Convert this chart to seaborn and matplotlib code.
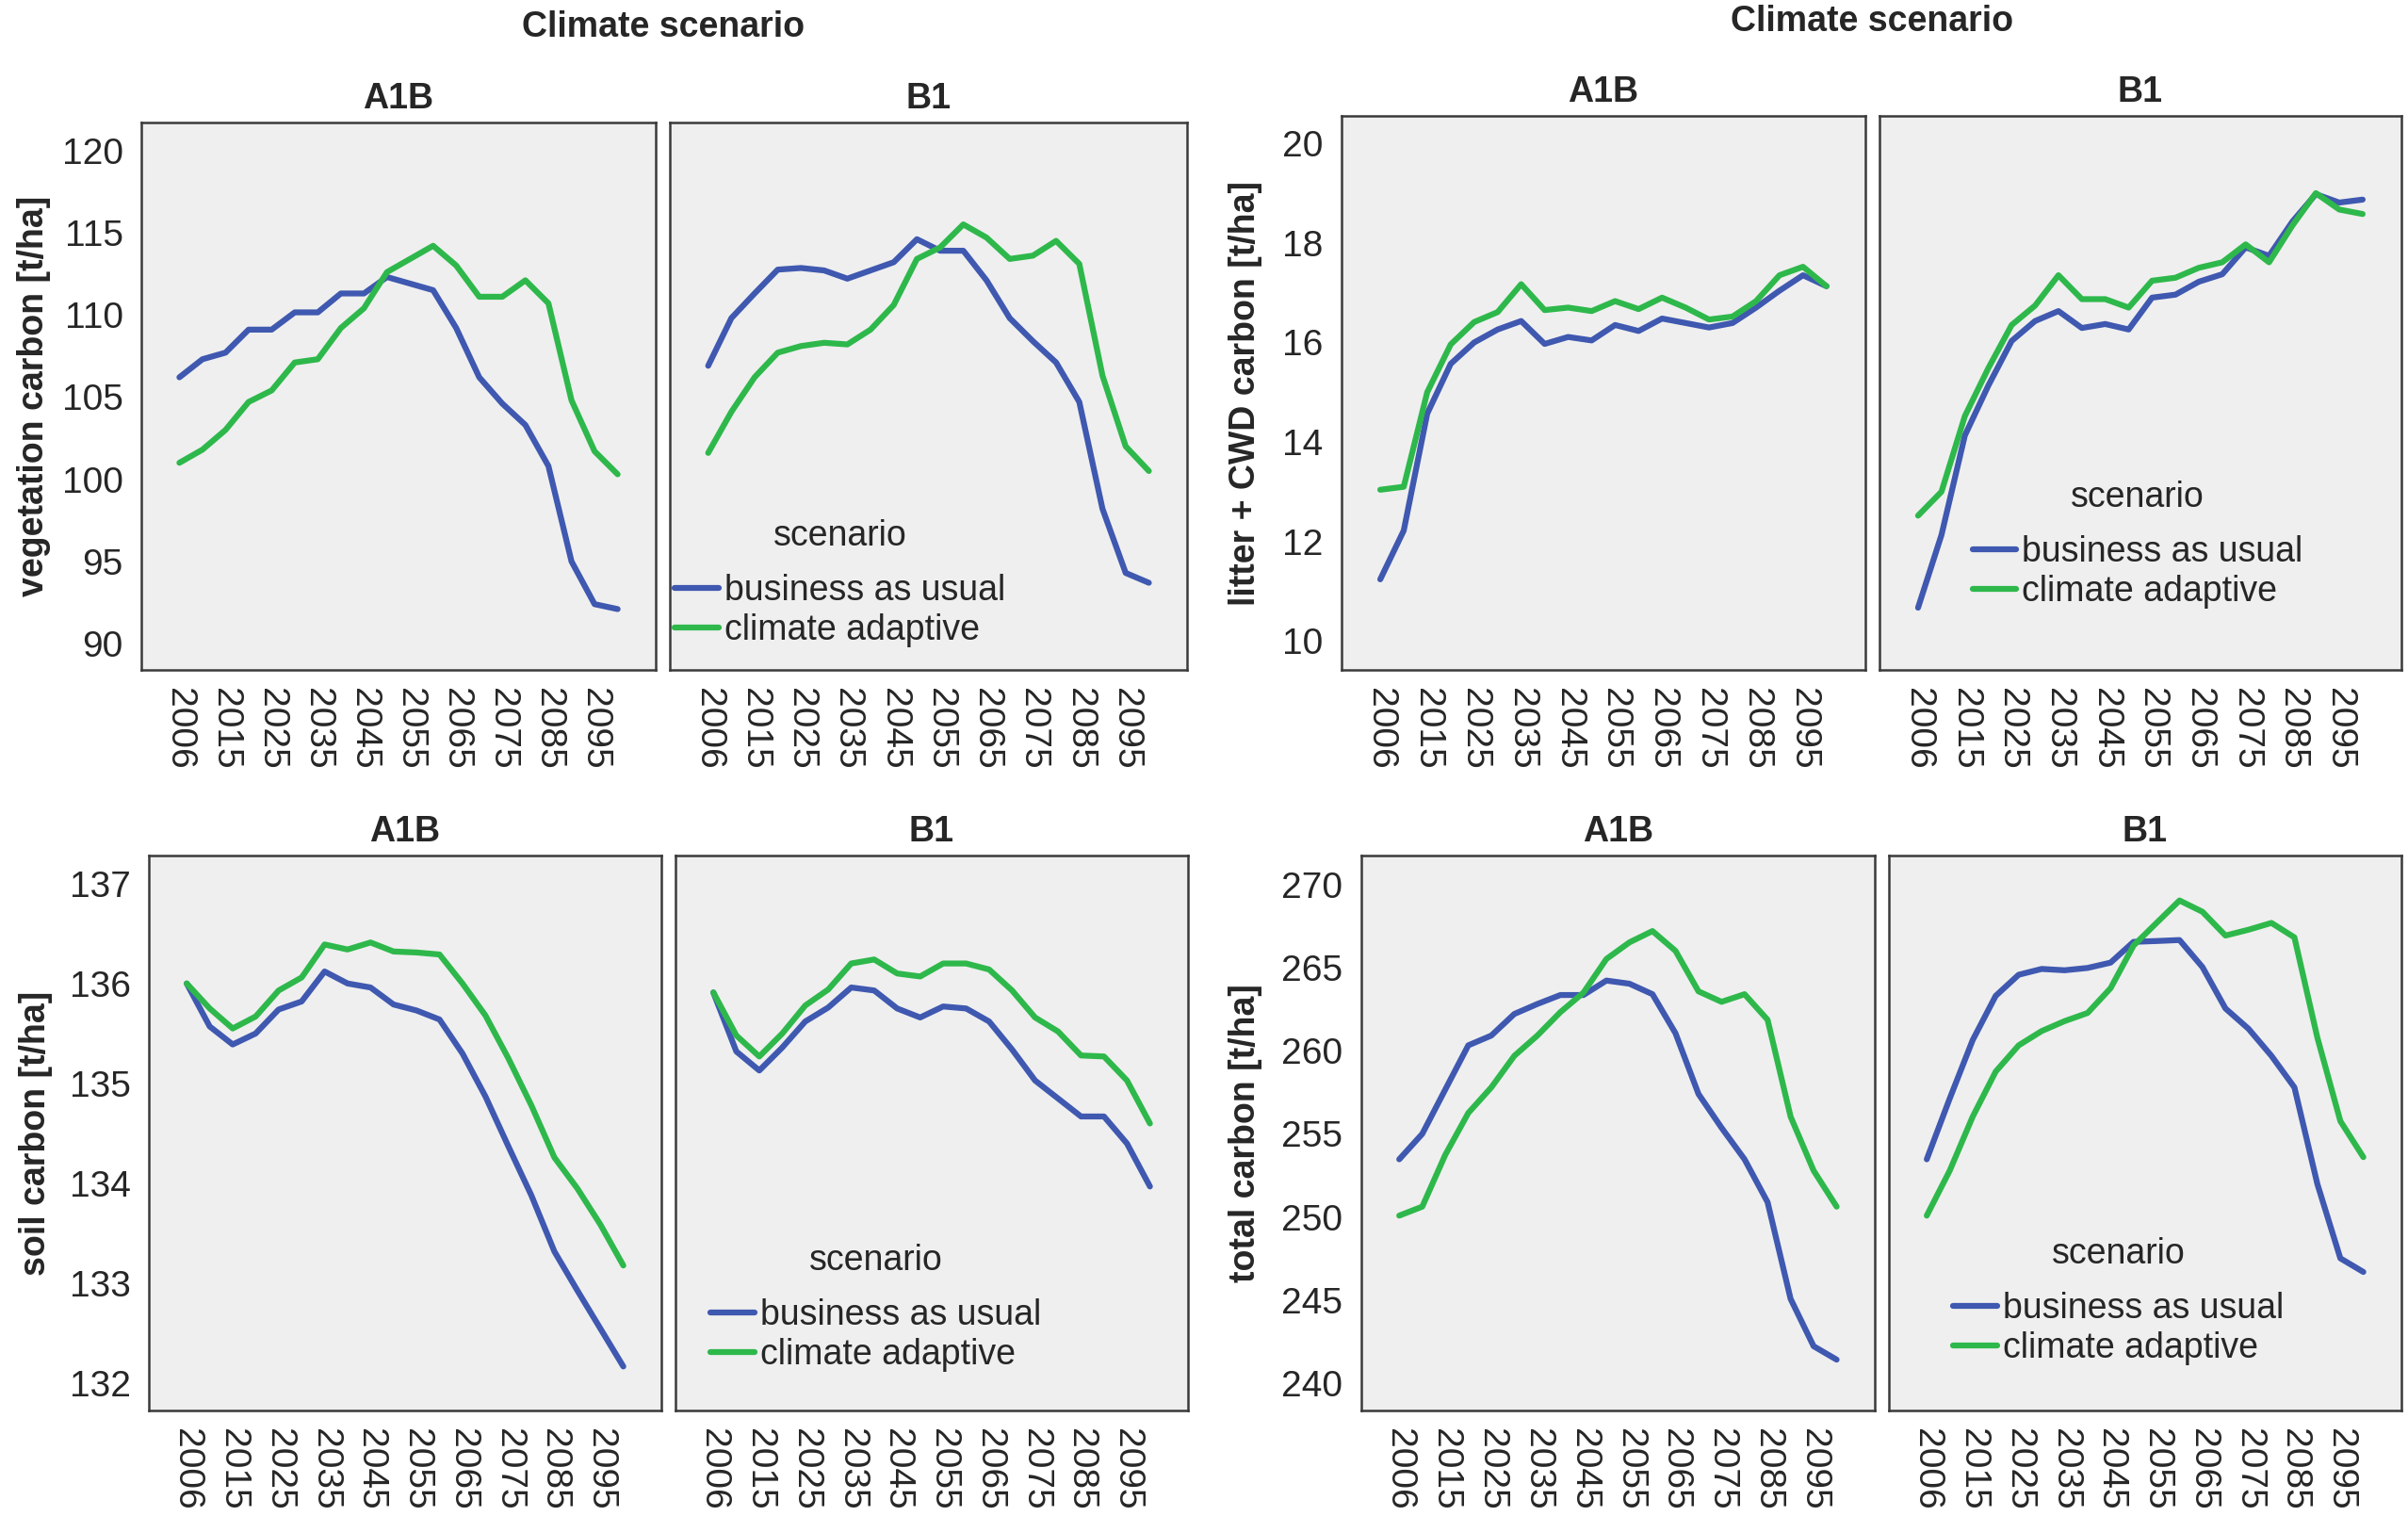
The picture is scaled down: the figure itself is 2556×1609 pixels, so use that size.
import numpy as np
import pandas as pd
import matplotlib
matplotlib.use("Agg")
import matplotlib.pyplot as plt
import seaborn as sns
from matplotlib.lines import Line2D

# categories on the x axis (one point each)
years = [2006, 2010, 2015, 2020, 2025, 2030, 2035, 2040, 2045, 2050,
         2055, 2060, 2065, 2070, 2075, 2080, 2085, 2090, 2095, 2100]
scenarios = ["business as usual", "climate adaptive"]
climates = ["A1B", "B1"]

# vegetation carbon [t/ha]
veg_a1b_bau = [106.2, 107.3, 107.7, 109.1, 109.1, 110.15, 110.15, 111.3, 111.3, 112.3,
               111.9, 111.5, 109.2, 106.2, 104.6, 103.3, 100.8, 95.0, 92.4, 92.1]
veg_a1b_ca = [101.0, 101.8, 103.0, 104.7, 105.4, 107.1, 107.3, 109.2, 110.4, 112.6,
              113.4, 114.2, 113.0, 111.1, 111.1, 112.1, 110.7, 104.8, 101.7, 100.3]
veg_b1_bau = [106.9, 109.8, 111.3, 112.75, 112.85, 112.7, 112.2, 112.7, 113.2, 114.6,
              113.9, 113.9, 112.1, 109.8, 108.4, 107.1, 104.7, 98.2, 94.3, 93.7]
veg_b1_ca = [101.6, 104.1, 106.2, 107.7, 108.1, 108.3, 108.2, 109.1, 110.6, 113.4,
             114.1, 115.5, 114.7, 113.4, 113.6, 114.5, 113.1, 106.3, 102.0, 100.5]

# litter + CWD carbon [t/ha]
lit_a1b_bau = [11.24, 12.22, 14.57, 15.57, 16.0, 16.26, 16.43, 15.97, 16.11, 16.04,
               16.35, 16.23, 16.48, 16.39, 16.30, 16.39, 16.70, 17.04, 17.35, 17.13]
lit_a1b_ca = [13.04, 13.10, 15.0, 15.96, 16.41, 16.61, 17.17, 16.65, 16.70, 16.63,
              16.83, 16.67, 16.90, 16.70, 16.46, 16.52, 16.83, 17.35, 17.52, 17.13]
lit_b1_bau = [10.67, 12.13, 14.13, 15.13, 16.03, 16.43, 16.63, 16.29, 16.37, 16.26,
              16.90, 16.96, 17.22, 17.37, 17.91, 17.74, 18.43, 18.98, 18.81, 18.87]
lit_b1_ca = [12.52, 13.0, 14.52, 15.48, 16.35, 16.74, 17.35, 16.87, 16.87, 16.70,
             17.24, 17.30, 17.50, 17.61, 17.97, 17.61, 18.35, 19.0, 18.67, 18.58]

# soil carbon [t/ha]
soil_a1b_bau = [136.0, 135.57, 135.39, 135.50, 135.74, 135.82, 136.12, 136.0, 135.96, 135.79,
                135.73, 135.64, 135.30, 134.87, 134.37, 133.88, 133.32, 132.93, 132.55, 132.17]
soil_a1b_ca = [136.0, 135.75, 135.55, 135.67, 135.93, 136.06, 136.39, 136.34, 136.41, 136.32,
               136.31, 136.29, 136.0, 135.68, 135.25, 134.78, 134.26, 133.95, 133.59, 133.18]
soil_b1_bau = [135.91, 135.32, 135.13, 135.36, 135.62, 135.76, 135.96, 135.93, 135.75, 135.66,
               135.77, 135.75, 135.62, 135.34, 135.03, 134.85, 134.67, 134.67, 134.40, 133.97]
soil_b1_ca = [135.91, 135.48, 135.27, 135.50, 135.78, 135.94, 136.20, 136.24, 136.10, 136.07,
              136.20, 136.20, 136.14, 135.93, 135.66, 135.52, 135.28, 135.27, 135.03, 134.60]

# total carbon [t/ha]
tot_a1b_bau = [253.47, 255.0, 257.67, 260.33, 260.92, 262.22, 262.82, 263.36, 263.36, 264.23,
               264.04, 263.41, 261.06, 257.40, 255.37, 253.47, 250.89, 245.07, 242.22, 241.41]
tot_a1b_ca = [250.08, 250.62, 253.74, 256.26, 257.80, 259.70, 260.92, 262.33, 263.50, 265.53,
              266.53, 267.21, 266.02, 263.58, 262.95, 263.41, 261.87, 256.04, 252.79, 250.62]
tot_b1_bau = [253.47, 257.13, 260.65, 263.31, 264.58, 264.93, 264.85, 264.99, 265.31, 266.56,
              266.61, 266.67, 265.04, 262.55, 261.33, 259.70, 257.80, 251.98, 247.51, 246.69]
tot_b1_ca = [250.08, 252.79, 256.04, 258.75, 260.33, 261.19, 261.79, 262.28, 263.77, 266.34,
             267.70, 269.05, 268.37, 266.94, 267.29, 267.70, 266.83, 260.79, 255.77, 253.60]


def long_table(a1b_bau, a1b_ca, b1_bau, b1_ca):
    rows = []
    series = {("A1B", scenarios[0]): a1b_bau, ("A1B", scenarios[1]): a1b_ca,
              ("B1", scenarios[0]): b1_bau, ("B1", scenarios[1]): b1_ca}
    for (clim, scen), vals in series.items():
        for i, v in enumerate(vals):
            rows.append({"climate": clim, "scenario": scen, "pos": i,
                         "year": years[i], "value": v})
    return pd.DataFrame(rows)


sns.set_style("white")
plt.rcParams["font.family"] = ["Liberation Sans", "DejaVu Sans"]

blue = "#3F58B0"
green = "#2EB84B"
palette = {scenarios[0]: blue, scenarios[1]: green}
frame_col = "#3A3A3A"
FS = 27
LW = 4.5

fig = plt.figure(figsize=(25.56, 16.09), dpi=100)

panels = [
    dict(df=long_table(veg_a1b_bau, veg_a1b_ca, veg_b1_bau, veg_b1_ca),
         rects=[(0.0587, 0.5581, 0.2136, 0.3611), (0.2782, 0.5581, 0.2148, 0.3611)],
         ylim=(88.4, 121.7), yticks=[90, 95, 100, 105, 110, 115, 120],
         ylabel="vegetation carbon [t/ha]", ylabel_x=0.0139,
         suptitle=(0.2755, 0.982), legend_xy=(0.3488, 0.6153)),
    dict(df=long_table(lit_a1b_bau, lit_a1b_ca, lit_b1_bau, lit_b1_ca),
         rects=[(0.5571, 0.5581, 0.2175, 0.3654), (0.7805, 0.5581, 0.2167, 0.3654)],
         ylim=(9.42, 20.55), yticks=[10, 12, 14, 16, 18, 20],
         ylabel="litter + CWD carbon [t/ha]", ylabel_x=0.5172,
         suptitle=(0.7774, 0.9857), legend_xy=(0.8877, 0.6408)),
    dict(df=long_table(soil_a1b_bau, soil_a1b_ca, soil_b1_bau, soil_b1_ca),
         rects=[(0.0618, 0.0696, 0.2128, 0.3661), (0.2805, 0.0696, 0.2128, 0.3661)],
         ylim=(131.73, 137.28), yticks=[132, 133, 134, 135, 136, 137],
         ylabel="soil carbon [t/ha]", ylabel_x=0.0149,
         suptitle=None, legend_xy=(0.3638, 0.1374)),
    dict(df=long_table(tot_a1b_bau, tot_a1b_ca, tot_b1_bau, tot_b1_ca),
         rects=[(0.5653, 0.0696, 0.2132, 0.3661), (0.7844, 0.0696, 0.2128, 0.3661)],
         ylim=(238.35, 271.76), yticks=[240, 245, 250, 255, 260, 265, 270],
         ylabel="total carbon [t/ha]", ylabel_x=0.5172,
         suptitle=None, legend_xy=(0.8798, 0.1415)),
]

tick_pos = list(range(0, len(years), 2))
tick_lab = [str(years[i]) for i in tick_pos]

for p in panels:
    for k, clim in enumerate(climates):
        ax = fig.add_axes(p["rects"][k])
        ax.set_facecolor("#EFEFEF")
        sub = p["df"][p["df"]["climate"] == clim]
        sns.lineplot(data=sub, x="pos", y="value", hue="scenario", palette=palette,
                     hue_order=scenarios, linewidth=LW, estimator=None, legend=False, ax=ax)
        ax.set_xlim(-1.65, len(years) - 1 + 1.65)
        ax.set_ylim(*p["ylim"])
        ax.set_xticks(tick_pos)
        ax.set_xticklabels(tick_lab, rotation=270, fontsize=28, ha="center", va="top")
        ax.set_yticks(p["yticks"])
        ax.set_yticklabels([str(t) for t in p["yticks"]], fontsize=28)
        ax.set_xlabel("")
        ax.set_ylabel("")
        for s in ax.spines.values():
            s.set_color(frame_col)
            s.set_linewidth(1.8)
        ax.tick_params(direction="out", length=10, width=1.5, color=frame_col, pad=4)
        if k == 1:
            ax.tick_params(axis="y", left=False, labelleft=False)
        ax.set_title(clim, fontsize=FS, fontweight="bold", pad=11)

        if k == 1:
            handles = [Line2D([0], [0], color=palette[s], lw=LW) for s in scenarios]
            leg = ax.legend(handles, scenarios, title="scenario", loc="center",
                            bbox_to_anchor=p["legend_xy"], bbox_transform=fig.transFigure,
                            frameon=False, fontsize=FS, title_fontsize=FS,
                            handlelength=1.25, handletextpad=0.15, labelspacing=0.16,
                            borderpad=0)
            leg._legend_box.sep = 16

    a = p["rects"][0]
    fig.text(p["ylabel_x"], a[1] + a[3] / 2, p["ylabel"], rotation=90, ha="center",
             va="center", fontsize=FS, fontweight="bold")
    if p["suptitle"] is not None:
        fig.text(p["suptitle"][0], p["suptitle"][1], "Climate scenario", ha="center",
                 va="center", fontsize=FS, fontweight="bold")

fig.savefig("out.png", dpi=100, facecolor="white")
